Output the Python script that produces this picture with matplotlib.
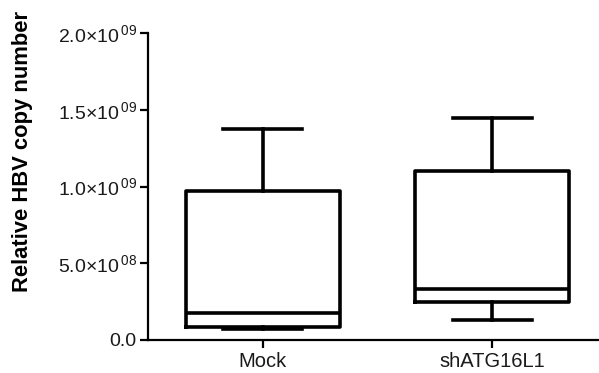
import matplotlib.pyplot as plt
from matplotlib.ticker import FixedLocator

plt.rcParams['font.family'] = ['Liberation Sans', 'DejaVu Sans']
plt.rcParams['mathtext.fontset'] = 'custom'
plt.rcParams['mathtext.rm'] = 'Liberation Sans'

groups = ['Mock', 'shATG16L1']
whislo = [0.074e9, 0.13e9]
q1 = [0.087e9, 0.25e9]
med = [0.178e9, 0.332e9]
q3 = [0.97e9, 1.103e9]
whishi = [1.375e9, 1.444e9]

yticks = [0, 0.5e9, 1.0e9, 1.5e9, 2.0e9]
ytick_labels = ['0.0', r'$\mathregular{5.0{\times}10^{\,08}}$', r'$\mathregular{1.0{\times}10^{\,09}}$',
                r'$\mathregular{1.5{\times}10^{\,09}}$', r'$\mathregular{2.0{\times}10^{\,09}}$']

stats = []
for i in range(len(groups)):
    stats.append({'label': groups[i], 'whislo': whislo[i], 'q1': q1[i], 'med': med[i],
                  'q3': q3[i], 'whishi': whishi[i], 'fliers': []})

fig = plt.figure(figsize=(5.99, 3.73), dpi=100)
ax = fig.add_axes([0.247, 0.0885, 0.753, 0.823])

lw = 2.6
ax.bxp(stats, positions=[1, 2], widths=0.67, capwidths=0.345, showfliers=False,
       boxprops=dict(linewidth=lw, color='black'),
       medianprops=dict(linewidth=lw, color='black'),
       whiskerprops=dict(linewidth=lw, color='black'),
       capprops=dict(linewidth=lw, color='black'))

ax.set_xlim(0.498, 2.467)
ax.set_ylim(0, 2.0e9)
ax.yaxis.set_major_locator(FixedLocator(yticks))
ax.set_yticklabels(ytick_labels)
ax.set_ylabel('Relative HBV copy number', fontsize=15.8, fontweight='bold')
ax.yaxis.set_label_coords(-0.255, 0.614)

for s in ['top', 'right']:
    ax.spines[s].set_visible(False)
for s in ['left', 'bottom']:
    ax.spines[s].set_linewidth(1.6)
ax.tick_params(axis='both', width=1.6, length=6, colors='black')
ax.tick_params(axis='y', pad=2, labelsize=14, labelcolor='#1a1a1a')
ax.tick_params(axis='x', pad=3, labelsize=14.5, labelcolor='#1a1a1a')

fig.savefig('out.png', dpi=100)
